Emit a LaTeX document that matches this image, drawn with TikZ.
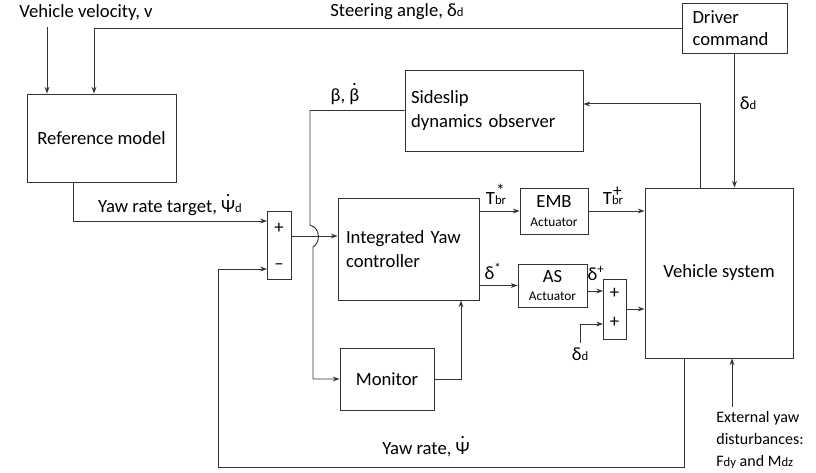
\documentclass[tikz,border=0pt]{standalone}
\usepackage{fontspec}
\setmainfont{Carlito}
\usetikzlibrary{positioning, arrows.meta, calc}

\newcommand{\sub}[1]{{\fontsize{9.5}{9.5}\selectfont #1}}
\newcommand{\dotover}[1]{\ooalign{#1\cr\hidewidth\raisebox{0.85em}{.}\hidewidth\cr}}
\newcommand{\tstar}[2]{\ooalign{\sub{#2}\cr\hidewidth\raisebox{0.45em}{\fontsize{13}{13}\selectfont #1}\hidewidth\cr}}

\begin{document}
\begin{tikzpicture}[x=0.75pt, y=-0.75pt,
    font=\fontsize{14}{18}\selectfont,
    box/.style 2 args={rectangle, draw=black!80, line width=0.7pt, inner sep=0pt,
        minimum width=#1*0.75pt, minimum height=#2*0.75pt},
    wire/.style={draw=black!80, line width=0.7pt},
    arr/.style={wire, -{Stealth[length=5pt, width=3.6pt]}}]
\useasboundingbox (0,0) rectangle (816,473);

% blocks
\node[box={149}{88}] (ref) at (101.5,138) {Reference model};
\node[box={105}{50}, align=left, text width=63pt] (drv) at (734.5,28) {Driver\\[-1pt]command};
\node[box={178}{81}, align=left, text width=124.5pt] (side) at (494,110.5) {Sideslip\\dynamics observer};
\node[box={141}{102}, align=left, text width=93.75pt] (ctrl) at (408.5,249) {Integrated Yaw\\controller};
\node[box={94}{62}] (mon) at (387,379) {Monitor};
\node[box={68}{46}, align=center] (emb) at (554,211) {EMB\\[-4pt]{\fontsize{10}{10}\selectfont Actuator}};
\node[box={69}{43}, align=center] (as) at (552.5,285.5) {AS\\[-4pt]{\fontsize{10}{10}\selectfont Actuator}};
\node[box={148}{170}] (veh) at (719,273) {Vehicle system};
\node[box={24}{68}] (s1) at (279,245) {};
\node[box={23}{60}] (s2) at (614.5,309) {};

% summing signs
\node (s1p) at (279,228) {+};
\node (s1m) at (279,267) {–};
\node (s2a) at (614.5,293) {+};
\node (s2b) at (614.5,322) {+};

% signal labels
\node (vel) at (86,13) {Vehicle velocity, v};
\node (steer) at (397,12) {Steering angle, δ\sub{d}};
\node (dd1) at (748,103) {δ\sub{d}};
\node (bb) at (345,97) {β, \dotover{β}};
\node (yrt) at (170,208) {Yaw rate target, \dotover{Ψ}\sub{d}};
\node (tbs) at (496,199) {T\tstar{*}{br}};
\node (tbp) at (613,199) {T\tstar{+}{br}};
\node (dst) at (493,271) {δ\textsuperscript{*}};
\node (dpl) at (596,273) {δ\textsuperscript{+}};
\node (dd2) at (580,354) {δ\sub{d}};
\node (yr) at (426,450) {Yaw rate, \dotover{Ψ}};
\node[align=left, font=\fontsize{12}{16.5}\selectfont] (ext) at (760,440) {External yaw\\disturbances:\\F\sub{dy} and M\sub{dz}};

% helper points
\coordinate (vx) at (47,27);
\coordinate (sx) at (94,0);
\coordinate (rx) at (73,0);
\coordinate (fx) at (700,0);
\coordinate (mx) at (461,0);
\coordinate (yx) at (684,0);
\coordinate (ex) at (732,0);
\coordinate (p1) at (267,221);
\coordinate (m1) at (267,269);
\coordinate (o1) at (291,236);
\coordinate (p2) at (603,291);
\coordinate (m2) at (603,324);
\coordinate (fb) at (218,467);
\coordinate (hop) at (310,236);

% connectors
\draw[arr] (vx) -- (vx |- ref.north);
\draw[arr] (drv.west) -| (sx |- ref.north);
\draw[arr] (drv.south) -- (drv.south |- veh.north);
\draw[arr] (fx |- veh.north) |- ([yshift=4.9pt]side.east);
\draw[arr] (side.west) -| ([yshift=8.25pt]hop)
    .. controls ([xshift=8pt,yshift=6pt]hop) and ([xshift=8pt,yshift=-5pt]hop) .. ([xshift=2.25pt,yshift=-8.25pt]hop)
    |- (mon.west);
\draw[arr] (rx |- ref.south) |- (p1);
\draw[arr] (o1) -- (o1 -| ctrl.west);
\draw[arr] (ctrl.east |- emb.west) -- (emb.west);
\draw[arr] (emb.east) -- (emb.east -| veh.west);
\draw[arr] (ctrl.east |- as.west) -- (as.west);
\draw[arr] (as.east |- p2) -- (p2);
\draw[arr] (dd2.north) |- (m2);
\draw[arr] (s2.east) -- (s2.east -| veh.west);
\draw[arr] (mon.east) -| (mx |- ctrl.south);
\draw[arr] (yx |- veh.south) |- (fb) |- (m1);
\draw[arr] (ex |- ext.north) -- (ex |- veh.south);
\end{tikzpicture}
\end{document}
